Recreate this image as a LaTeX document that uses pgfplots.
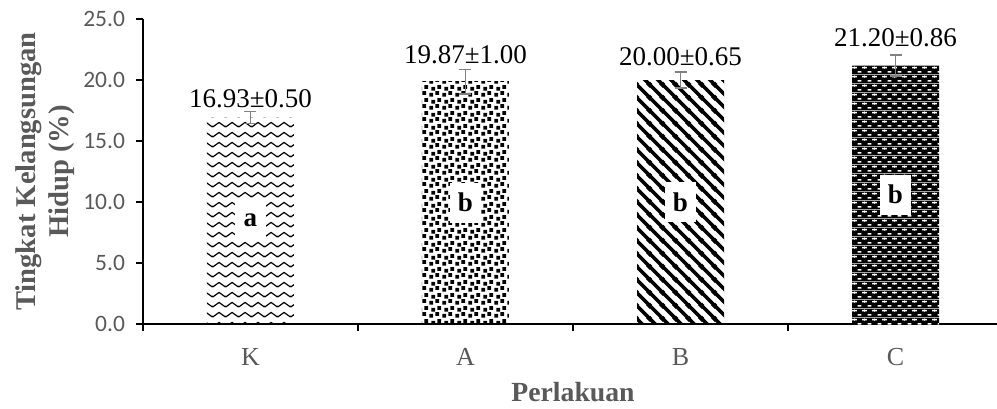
\documentclass[border=0pt]{standalone}
\usepackage{fontspec}
\setmainfont{Liberation Serif}
\newfontfamily\carlito{Carlito}
\usepackage{pgfplots}
\pgfplotsset{compat=1.18}
\usetikzlibrary{patterns}
\definecolor{txtgray}{HTML}{595959}
\definecolor{errgray}{HTML}{808080}

\pgfdeclarepatternformonly{mywaves}{\pgfpointorigin}{\pgfpoint{12.5pt}{10pt}}{\pgfpoint{12.5pt}{10pt}}{
  \pgfsetlinewidth{1.3pt}
  \pgfsetroundjoin
  \pgfpathmoveto{\pgfpoint{-6.25pt}{7.2pt}}
  \pgfpathlineto{\pgfpoint{0pt}{2.4pt}}
  \pgfpathlineto{\pgfpoint{6.25pt}{7.2pt}}
  \pgfpathlineto{\pgfpoint{12.5pt}{2.4pt}}
  \pgfpathlineto{\pgfpoint{18.75pt}{7.2pt}}
  \pgfusepath{stroke}
}
\pgfdeclarepatternformonly{myconfetti}{\pgfpointorigin}{\pgfpoint{13pt}{13pt}}{\pgfpoint{13pt}{13pt}}{
  \pgfpathrectangle{\pgfpoint{0.3pt}{0.3pt}}{\pgfpoint{4pt}{4pt}}
  \pgfpathrectangle{\pgfpoint{6.8pt}{2.3pt}}{\pgfpoint{4pt}{4pt}}
  \pgfpathrectangle{\pgfpoint{2.6pt}{6.9pt}}{\pgfpoint{4pt}{4pt}}
  \pgfpathrectangle{\pgfpoint{8.8pt}{8.8pt}}{\pgfpoint{4pt}{4pt}}
  \pgfusepath{fill}
}
\pgfdeclarepatternformonly{mystripes}{\pgfpointorigin}{\pgfpoint{13pt}{13pt}}{\pgfpoint{13pt}{13pt}}{
  \pgfsetlinewidth{3.7pt}
  \pgfpathmoveto{\pgfpoint{-2pt}{15pt}}\pgfpathlineto{\pgfpoint{15pt}{-2pt}}
  \pgfpathmoveto{\pgfpoint{-2pt}{2pt}}\pgfpathlineto{\pgfpoint{2pt}{-2pt}}
  \pgfpathmoveto{\pgfpoint{11pt}{15pt}}\pgfpathlineto{\pgfpoint{15pt}{11pt}}
  \pgfusepath{stroke}
}
\pgfdeclarepatterninherentlycolored{mydashes}{\pgfpointorigin}{\pgfpoint{9.5pt}{9.2pt}}{\pgfpoint{9.5pt}{9.2pt}}{
  \pgfsetfillcolor{black}
  \pgfpathrectangle{\pgfpointorigin}{\pgfpoint{9.5pt}{9.2pt}}
  \pgfusepath{fill}
  \pgfsetfillcolor{white}
  \pgfpathrectangle{\pgfpoint{2.75pt}{1.4pt}}{\pgfpoint{4pt}{1.7pt}}
  \pgfpathrectangle{\pgfpoint{-2pt}{6pt}}{\pgfpoint{4pt}{1.7pt}}
  \pgfpathrectangle{\pgfpoint{7.5pt}{6pt}}{\pgfpoint{4pt}{1.7pt}}
  \pgfusepath{fill}
}

\pgfplotsset{
  mybar/.style={ybar, bar width=87pt, bar shift=0pt, draw=none,
    nodes near coords, point meta=explicit symbolic,
    error bars/y dir=both, error bars/y explicit,
    error bars/error bar style={errgray, line width=1.5pt},
    error bars/error mark options={errgray, rotate=90, mark size=6pt, line width=1.5pt}},
  toplab/.style={nodes near coords style={font=\fontsize{27}{27}\selectfont, text=black, anchor=center, yshift=#1}}
}

\begin{document}
\begin{tikzpicture}
\begin{axis}[
  scale only axis, width=860pt, height=305pt,
  xmin=-0.5, xmax=3.5, ymin=0, ymax=25,
  clip=false,
  axis x line*=bottom, axis y line*=left,
  axis line style={black, line width=1.2pt},
  tick align=outside, major tick length=7pt,
  tick style={black, line width=1.2pt},
  xtick={-0.5,0.5,1.5,2.5,3.5}, xticklabels={,,,,},
  extra x ticks={0,1,2,3}, extra x tick labels={K,A,B,C},
  extra x tick style={major tick length=0pt, tick style={draw=none},
    xticklabel style={font=\fontsize{26}{26}\selectfont, text=txtgray, anchor=base, yshift=-41.3pt}},
  ytick={0,5,10,15,20,25},
  yticklabel style={font=\carlito\fontsize{23.5}{23.5}\selectfont, text=txtgray, anchor=east, inner sep=0pt, xshift=-10.8pt,
    /pgf/number format/fixed, /pgf/number format/fixed zerofill, /pgf/number format/precision=1,
    /pgf/number format/assume math mode=true},
  ylabel={Tingkat Kelangsungan\\Hidup (\%)},
  ylabel style={at={(axis description cs:-0.1135,0.5)}, anchor=center, align=center,
    font=\bfseries\fontsize{28.6}{33}\selectfont, text=txtgray},
  xlabel={Perlakuan},
  xlabel style={at={(axis description cs:0.5,-0.223)}, anchor=center,
    font=\bfseries\fontsize{27.7}{27.7}\selectfont, text=txtgray},
]
\addplot[mybar, pattern=mywaves, pattern color=black, toplab=19.2pt] table[x=x, y=y, y error=e, meta=lab]{
x y e lab
0 16.93 0.50 16.93±0.50
};
\addplot[mybar, pattern=myconfetti, pattern color=black, toplab=26.6pt] table[x=x, y=y, y error=e, meta=lab]{
x y e lab
1 19.87 1.00 19.87±1.00
};
\addplot[mybar, pattern=mystripes, pattern color=black, toplab=23pt] table[x=x, y=y, y error=e, meta=lab]{
x y e lab
2 20.00 0.65 20.00±0.65
};
\addplot[mybar, pattern=mydashes, toplab=27.4pt] table[x=x, y=y, y error=e, meta=lab]{
x y e lab
3 21.20 0.86 21.20±0.86
};
\addplot[draw=none, mark=none, nodes near coords, point meta=explicit symbolic,
  nodes near coords style={font=\bfseries\fontsize{27}{27}\selectfont, fill=white, text=black, anchor=center,
    minimum width=31pt, minimum height=40pt, inner sep=0pt}] table[x=x, y=y, meta=lab]{
x y lab
0 8.47 a
1 9.94 b
2 10.00 b
3 10.60 b
};
\end{axis}
\pgfresetboundingbox
\path[use as bounding box] (-143pt,-84pt) rectangle (854pt,324pt);
\end{tikzpicture}
\end{document}
